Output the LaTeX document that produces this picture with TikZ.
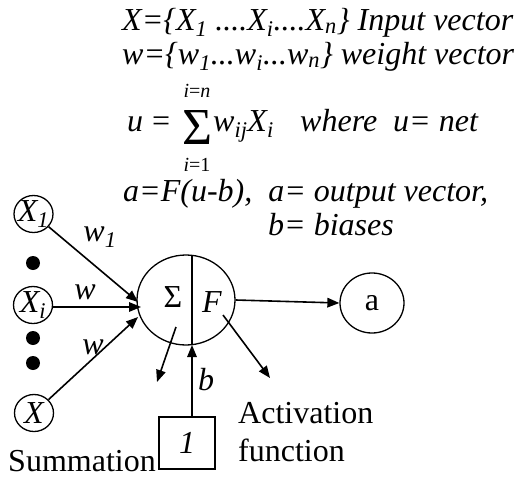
\documentclass[tikz,border=0pt]{standalone}
\usepackage{fontspec}
\setmainfont{Liberation Serif}
\usetikzlibrary{arrows.meta,shapes.geometric}
\begin{document}
\begin{tikzpicture}[x=1pt,y=-1pt,
  txt/.style={font=\fontsize{32}{34}\selectfont, inner sep=0pt},
  itxt/.style={font=\fontsize{32}{34}\selectfont\itshape, inner sep=0pt},
  limtxt/.style={font=\fontsize{20}{20}\selectfont\itshape, inner sep=0pt, anchor=base},
  arr/.style={line width=1.6pt, -{Triangle[length=12pt,width=9.5pt]}},
  shp/.style={draw, line width=1.3pt, inner sep=0pt},
  inp/.style={ellipse, shp, minimum width=39pt, minimum height=37pt},
  dotnode/.style={circle, fill=black, minimum size=14pt, inner sep=0pt}
]
\useasboundingbox (0,0) rectangle (525,479);
% formulas
\node[itxt, anchor=base west] (l1) at (122,30) {X=\{X\textsubscript{1} ....X\textsubscript{i}....X\textsubscript{n}\} Input vector};
\node[itxt, anchor=base west] (l2) at (122,64) {w=\{w\textsubscript{1}...w\textsubscript{i}...w\textsubscript{n}\} weight vector};
\node[itxt, anchor=base west] (l3a) at (127,131) {u};
\node[txt, anchor=base west] (l3eq) at (152,131) {=};
\node[inner sep=0pt, anchor=north west] (sig) at (182,110) {\resizebox{30pt}{34pt}{Σ}};
\node[limtxt] (up) at (197,97) {i\upshape=\itshape n};
\node[limtxt] (lo) at (197,171) {i\upshape=1};
\node[itxt, anchor=base west] (l3b) at (213,131) {w\textsubscript{ij}X\textsubscript{i}};
\node[itxt, anchor=base west] (l3c) at (300,131) {where\ \ u= net};
\node[itxt, anchor=base west] (l4) at (123,201) {a=F(u-b),\ \ a= output vector,};
\node[itxt, anchor=base west] (l5) at (268,235) {b= biases};
% inputs
\node[inp, label={[itxt]center:X\textsubscript{1}}] (x1) at (33.5,214) {};
\node[inp, label={[itxt]center:X\textsubscript{i}}] (xi) at (33,305) {};
\node[inp, label={[itxt]center:X}] (xn) at (34,413) {};
\node[dotnode] (d1) at (33,263) {};
\node[dotnode] (d2) at (33,338) {};
\node[dotnode] (d3) at (33,363) {};
% neuron
\node[ellipse, shp, minimum width=98pt, minimum height=90pt] (neu) at (186,300) {};
\draw[line width=1.3pt] (192,255.3) -- (192,344.7);
\node[txt] (sg) at (173,297) {Σ};
\node[itxt] (ff) at (212,302) {F};
\node[ellipse, shp, minimum width=64pt, minimum height=60pt, txt] (a) at (372,303) {a};
\node[shp, minimum width=56pt, minimum height=52pt, itxt] (one) at (187,443) {1};
% texts
\node[txt, anchor=base] (summ) at (82,471) {Summation};
\node[txt, anchor=west] (act) at (238,413) {Activation};
\node[txt, anchor=west] (fun) at (238,450) {function};
% weight labels
\node[itxt] (w1) at (100,237) {w\textsubscript{1}};
\node[itxt] (wi) at (85,292) {w};
\node[itxt] (wn) at (93,347) {w};
\node[itxt] (bl) at (206,380) {b};
% connectors
\coordinate (e1) at (138,302);
\coordinate (e2) at (141,307);
\coordinate (e3) at (138,317);
\draw[arr] (x1) -- (e1);
\draw[arr] (xi.east |- e2) -- (e2);
\draw[arr] (xn) -- (e3);
\coordinate (s0) at (176,327);
\coordinate (s1) at (157,382);
\draw[arr] (s0) -- (s1);
\coordinate (f0) at (223,315);
\coordinate (f1) at (270,378);
\draw[arr] (f0) -- (f1);
\coordinate (bx) at (192,345);
\draw[arr] (one.north -| bx) -- (bx);
\draw[arr] (neu.east) -- (a.west);
\end{tikzpicture}
\end{document}
